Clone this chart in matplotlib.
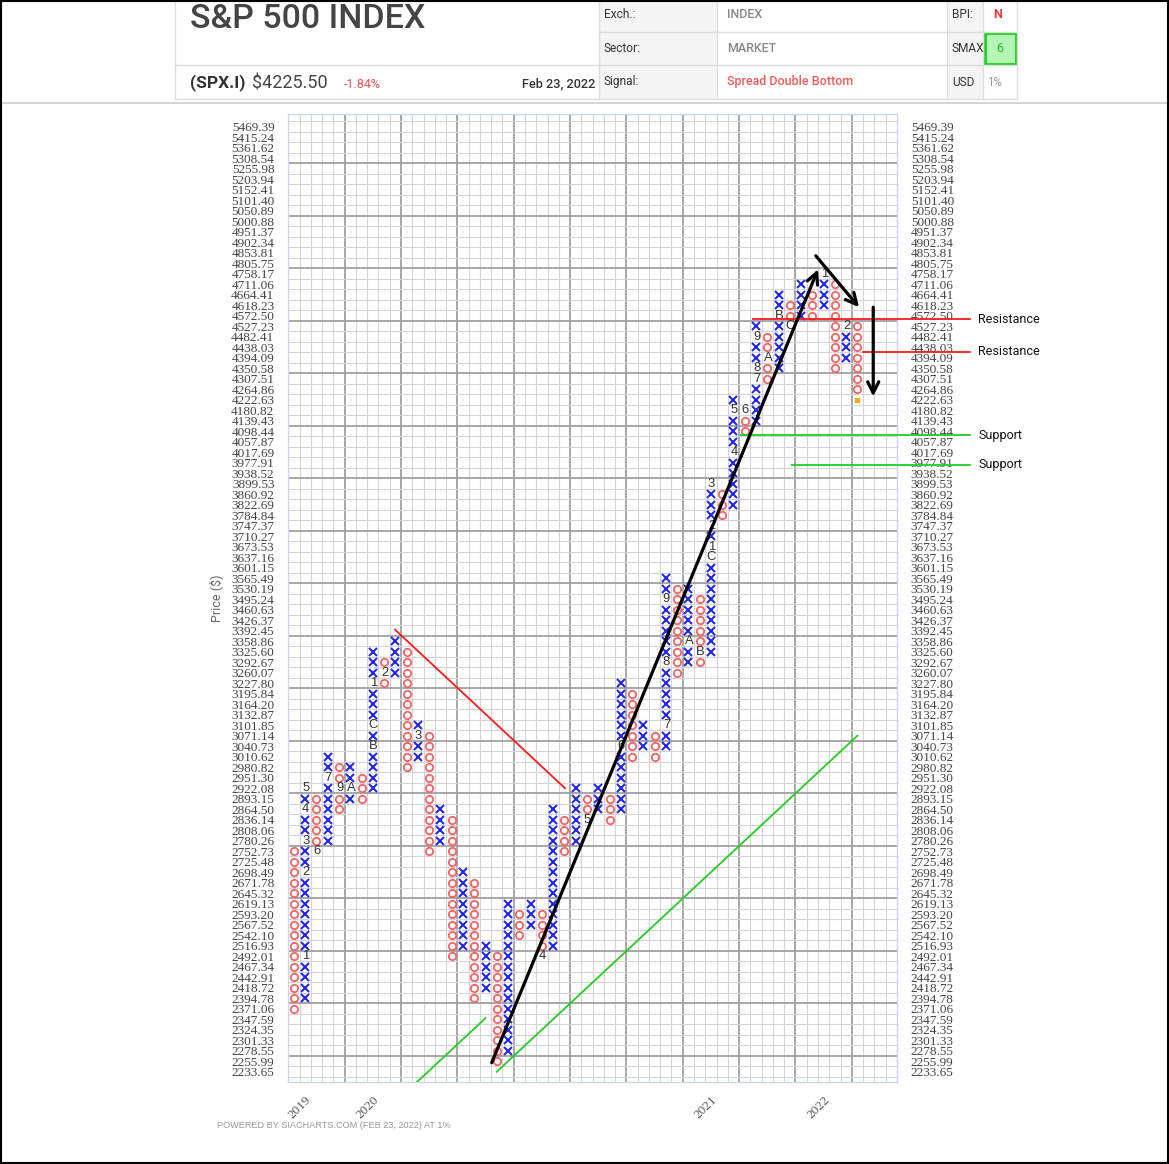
import matplotlib
matplotlib.use('Agg')
import matplotlib.pyplot as plt
from matplotlib.patches import Rectangle
from matplotlib.lines import Line2D

W, H = 1169, 1164
fig = plt.figure(figsize=(W / 100, H / 100), dpi=100)

# ---------------- data ----------------
price_levels = [
    2233.65, 2255.99, 2278.55, 2301.33, 2324.35, 2347.59, 2371.06, 2394.78, 2418.72, 2442.91,
    2467.34, 2492.01, 2516.93, 2542.10, 2567.52, 2593.20, 2619.13, 2645.32, 2671.78, 2698.49,
    2725.48, 2752.73, 2780.26, 2808.06, 2836.14, 2864.50, 2893.15, 2922.08, 2951.30, 2980.82,
    3010.62, 3040.73, 3071.14, 3101.85, 3132.87, 3164.20, 3195.84, 3227.80, 3260.07, 3292.67,
    3325.60, 3358.86, 3392.45, 3426.37, 3460.63, 3495.24, 3530.19, 3565.49, 3601.15, 3637.16,
    3673.53, 3710.27, 3747.37, 3784.84, 3822.69, 3860.92, 3899.53, 3938.52, 3977.91, 4017.69,
    4057.87, 4098.44, 4139.43, 4180.82, 4222.63, 4264.86, 4307.51, 4350.58, 4394.09, 4438.03,
    4482.41, 4527.23, 4572.50, 4618.23, 4664.41, 4711.06, 4758.17, 4805.75, 4853.81, 4902.34,
    4951.37, 5000.88, 5050.89, 5101.40, 5152.41, 5203.94, 5255.98, 5308.54, 5361.62, 5415.24,
    5469.39]

col_types = ['O', 'X', 'O', 'X', 'O', 'X', 'O', 'X', 'O', 'X',
             'O', 'X', 'O', 'X', 'O', 'X', 'O', 'X', 'O', 'X',
             'O', 'X', 'O', 'X', 'O', 'X', 'O', 'X', 'O', 'X',
             'O', 'X', 'O', 'X', 'O', 'X', 'O', 'X', 'O', 'X',
             'O', 'X', 'O', 'X', 'O', 'X', 'O', 'X', 'O', 'X', 'O']
col_low = [2371.06, 2394.78, 2752.73, 2780.26, 2864.50, 2893.15, 2893.15, 2922.08, 3227.80, 3260.07,
           2980.82, 3010.62, 2752.73, 2780.26, 2492.01, 2516.93, 2394.78, 2418.72, 2255.99, 2278.55,
           2542.10, 2567.52, 2492.01, 2516.93, 2752.73, 2780.26, 2836.14, 2864.50, 2836.14, 2864.50,
           3010.62, 3040.73, 3010.62, 3040.73, 3260.07, 3292.67, 3292.67, 3325.60, 3784.84, 3822.69,
           4098.44, 4139.43, 4307.51, 4350.58, 4527.23, 4572.50, 4572.50, 4618.23, 4350.58, 4394.09,
           4264.86]
col_high = [2752.73, 2922.08, 2893.15, 3010.62, 2980.82, 2980.82, 2951.30, 3325.60, 3292.67, 3358.86,
            3325.60, 3101.85, 3071.14, 2864.50, 2836.14, 2698.49, 2671.78, 2516.93, 2492.01, 2619.13,
            2593.20, 2619.13, 2593.20, 2864.50, 2836.14, 2922.08, 2893.15, 2922.08, 2893.15, 3227.80,
            3195.84, 3101.85, 3071.14, 3565.49, 3530.19, 3530.19, 3495.24, 3899.53, 3860.92, 4222.63,
            4180.82, 4527.23, 4482.41, 4664.41, 4618.23, 4711.06, 4664.41, 4758.17, 4711.06, 4527.23,
            4527.23]

# month markers: (column, price box, label)
month_marks = [
    (1, 2492.01, '1'), (1, 2698.49, '2'), (1, 2780.26, '3'), (1, 2864.50, '4'), (1, 2922.08, '5'),
    (2, 2752.73, '6'), (3, 2951.30, '7'), (4, 2922.08, '9'), (5, 2922.08, 'A'), (7, 3040.73, 'B'),
    (7, 3101.85, 'C'), (7, 3227.80, '1'), (8, 3260.07, '2'), (11, 3071.14, '3'), (22, 2492.01, '4'),
    (26, 2836.14, '5'), (29, 3040.73, '6'), (33, 3101.85, '7'), (33, 3292.67, '8'), (33, 3495.24, '9'),
    (35, 3358.86, 'A'), (36, 3325.60, 'B'), (37, 3637.16, 'C'), (37, 3673.53, '1'), (37, 3747.37, '2'),
    (37, 3899.53, '3'), (39, 4017.69, '4'), (39, 4180.82, '5'), (40, 4180.82, '6'), (41, 4307.51, '7'),
    (41, 4350.58, '8'), (41, 4482.41, '9'), (42, 4394.09, 'A'), (43, 4572.50, 'B'), (44, 4527.23, 'C'),
    (47, 4758.17, '1'), (49, 4527.23, '2')]

current_col = 50
current_price = 4222.63

year_cols = [1, 7, 37, 47]
year_labels = ['2019', '2020', '2021', '2022']

# annotation lines in (column, box-index) units
trend_up_black = [(18.05, 0.86), (47.0, 76.4)]
arrow_down_1 = [(46.8, 77.7), (50.64, 72.8)]
arrow_down_2 = [(51.9, 72.8), (51.9, 64.3)]
red_diag = [(9.47, 42.1), (24.55, 27.0)]
green_long = [(18.5, 0.0), (50.5, 32.0)]
green_short = [(11.45, -0.95), (17.5, 5.1)]
resistance_lines = [(41.2, 71.65), (50.97, 68.57)]
support_lines = [(40.2, 60.6), (44.7, 57.8)]
line_end_col = 60.5

# ---------------- axes ----------------
def fx(x):
    return x / W

def fy(y):
    return 1 - y / H

ax_l, ax_r, ax_t, ax_b = 288.3, 896.9, 114.0, 1081.7
ax = fig.add_axes([fx(ax_l), fy(ax_b), (ax_r - ax_l) / W, (ax_b - ax_t) / H])
ncols = 54
ax.set_xlim(0, ncols)
ax.set_ylim(-0.95, 91.2)

# grid
for c in range(1, ncols):
    thick = (c % 5 == 0)
    ax.axvline(c, color='#a0a0a0' if thick else '#d4d4d4', lw=1.3 if thick else 0.8, zorder=0)
for k in range(-1, 91):
    b = k + 0.5
    thick = ((b - 1.5) % 5 == 0)
    ax.axhline(b, color='#a0a0a0' if thick else '#d4d4d4', lw=1.3 if thick else 0.8, zorder=0)

for s in ax.spines.values():
    s.set_color('#ccd6eb')
    s.set_linewidth(1.0)

idx = {p: i for i, p in enumerate(price_levels)}
mark_lookup = {(c, idx[p]): lab for c, p, lab in month_marks}

xs_x, ys_x, xs_o, ys_o = [], [], [], []
for c, (t, lo, hi) in enumerate(zip(col_types, col_low, col_high)):
    for r in range(idx[lo], idx[hi] + 1):
        if (c, r) in mark_lookup:
            continue
        if t == 'X':
            xs_x.append(c + 0.5); ys_x.append(r)
        else:
            xs_o.append(c + 0.5); ys_o.append(r)

ax.plot(xs_x, ys_x, linestyle='none', marker='x', markersize=5.2, mew=1.45,
        color='#1f24f0', zorder=3)
ax.plot(xs_o, ys_o, linestyle='none', marker='o', markersize=5.3, mew=1.3,
        markerfacecolor='none', markeredgecolor='#f26464', zorder=3)
for (c, r), lab in mark_lookup.items():
    ax.text(c + 0.55, r, lab, ha='center', va='center', fontsize=9.4, color='#333333',
            family='Liberation Sans', zorder=4)
ax.plot([current_col + 0.5], [idx[current_price]], linestyle='none', marker='s',
        markersize=3.0, color='#f5a623', zorder=3)

# ticks
ax.set_yticks(range(len(price_levels)))
ax.set_yticklabels([f'{p:.2f}' for p in price_levels])
ax.tick_params(axis='y', length=0, pad=10, labelsize=9.5, labelcolor='#444444',
               left=False, right=False, labelleft=True, labelright=True)
for t in ax.yaxis.get_major_ticks():
    t.label1.set_fontfamily('Liberation Serif')
    t.label2.set_fontfamily('Liberation Serif')

ax.set_xticks([c + 0.5 for c in year_cols])
ax.set_xticklabels(year_labels)
ax.tick_params(axis='x', length=0, pad=9, labelsize=9.5, labelcolor='#555555')
for lab in ax.get_xticklabels():
    lab.set_rotation(45)
    lab.set_ha('right')
    lab.set_va('top')
    lab.set_rotation_mode('anchor')
    lab.set_fontfamily('Liberation Serif')

# annotation lines
(x0, y0), (x1, y1) = red_diag
ax.plot([x0, x1], [y0, y1], color='#ff1a1a', lw=1.3, zorder=5)
(x0, y0), (x1, y1) = green_long
ax.plot([x0, x1], [y0, y1], color='#22cc22', lw=1.3, zorder=5)
(x0, y0), (x1, y1) = green_short
ax.plot([x0, x1], [y0, y1], color='#22cc22', lw=1.3, zorder=5)

for (xa, ya), (xb, yb) in [trend_up_black, arrow_down_1, arrow_down_2]:
    ax.annotate('', xy=(xb, yb), xytext=(xa, ya),
                arrowprops=dict(arrowstyle='->', lw=2.3, color='black',
                                mutation_scale=20, shrinkA=0, shrinkB=0),
                annotation_clip=False, zorder=6)

for xs, yv in resistance_lines:
    ax.plot([xs, line_end_col], [yv, yv], color='#ff1a1a', lw=1.3, clip_on=False, zorder=5)
    ax.text(line_end_col + 0.7, yv, 'Resistance', ha='left', va='center', fontsize=9,
            family='Roboto', color='#111111', clip_on=False)
for xs, yv in support_lines:
    ax.plot([xs, line_end_col], [yv, yv], color='#22cc22', lw=1.3, clip_on=False, zorder=5)
    ax.text(line_end_col + 0.7, yv, 'Support', ha='left', va='center', fontsize=9,
            family='Roboto', color='#111111', clip_on=False)

fig.text(fx(216), fy(598), 'Price ($)', rotation=90, ha='center', va='center',
         fontsize=9, color='#666666', family='Roboto')
fig.text(fx(217), fy(1125), 'POWERED BY SIACHARTS.COM (FEB 23, 2022) AT 1%', ha='left',
         va='center', fontsize=6.6, color='#999999', family='Liberation Sans')

# ---------------- header ----------------
def hline(x0, x1, y, color='#dddddd', lw=1.0):
    fig.add_artist(Line2D([fx(x0), fx(x1)], [fy(y), fy(y)], color=color, lw=lw,
                          transform=fig.transFigure))

def vline(x, y0, y1, color='#dddddd', lw=1.0):
    fig.add_artist(Line2D([fx(x), fx(x)], [fy(y0), fy(y1)], color=color, lw=lw,
                          transform=fig.transFigure))

def rect(x0, y0, x1, y1, fc, ec='none', lw=0):
    fig.add_artist(Rectangle((fx(x0), fy(y1)), (x1 - x0) / W, (y1 - y0) / H,
                             facecolor=fc, edgecolor=ec, lw=lw, transform=fig.transFigure))

rect(599, 0, 717, 99, '#f4f4f4')
rect(947, 0, 983, 99, '#f4f4f4')
rect(985, 33, 1016, 64, '#b4f7b4', ec='#1ccf1c', lw=2.0)
vline(175, 0, 99)
for xv in [599, 717, 947, 983, 1017]:
    vline(xv, 0, 99)
hline(599, 1017, 31.7)
hline(599, 1017, 65)
hline(175, 599, 65)
hline(175, 1017, 99)
hline(0, W, 103, color='#cccccc', lw=1.2)

fig.text(fx(190), fy(19), 'S&P 500 INDEX', ha='left', va='center', fontsize=24.5,
         color='#444444', family='Roboto', weight='medium')
fig.text(fx(190), fy(83), '(SPX.I)', ha='left', va='center', fontsize=12.5,
         color='#333333', family='Roboto', weight='bold')
fig.text(fx(252), fy(83), '$4225.50', ha='left', va='center', fontsize=13,
         color='#444444', family='Roboto')
fig.text(fx(344), fy(84), '-1.84%', ha='left', va='center', fontsize=9,
         color='#f05050', family='Roboto')
fig.text(fx(595), fy(84), 'Feb 23, 2022', ha='right', va='center', fontsize=9.2,
         color='#333333', family='Roboto', weight='medium')

lab_kw = dict(ha='left', va='center', fontsize=8.6, color='#333333', family='Roboto')
fig.text(fx(604), fy(14), 'Exch.:', **lab_kw)
fig.text(fx(604), fy(48), 'Sector:', **lab_kw)
fig.text(fx(604), fy(82), 'Signal:', **lab_kw)
fig.text(fx(952), fy(14), 'BPI:', **lab_kw)
fig.text(fx(952), fy(48), 'SMAX', **lab_kw)
fig.text(fx(952), fy(82), 'USD', **lab_kw)
val_kw = dict(ha='left', va='center', fontsize=9, family='Roboto', weight='medium')
fig.text(fx(727), fy(14), 'INDEX', color='#888888', **val_kw)
fig.text(fx(727), fy(48), 'MARKET', color='#888888', **val_kw)
fig.text(fx(727), fy(82), 'Spread Double Bottom', color='#f05a5a', **val_kw)
fig.text(fx(998), fy(14), 'N', ha='center', va='center', fontsize=9, color='#f03c3c',
         family='Roboto', weight='bold')
fig.text(fx(1000), fy(48), '6', ha='center', va='center', fontsize=9, color='#33aa33',
         family='Roboto')
fig.text(fx(995), fy(82), '1%', ha='center', va='center', fontsize=8.3, color='#999999',
         family='Roboto')

# figure border
for (xa, ya), (xb, yb) in [((0.5, 0.8), (0.5, H - 1.5)), ((W - 1.5, 0.8), (W - 1.5, H - 1.5)),
                           ((0.5, H - 1.5), (W - 1.5, H - 1.5)), ((0.5, 0.8), (W - 1.5, 0.8))]:
    fig.add_artist(Line2D([fx(xa), fx(xb)], [fy(ya), fy(yb)], color='black', lw=1.5,
                          transform=fig.transFigure))

fig.savefig('out.png', dpi=100)
